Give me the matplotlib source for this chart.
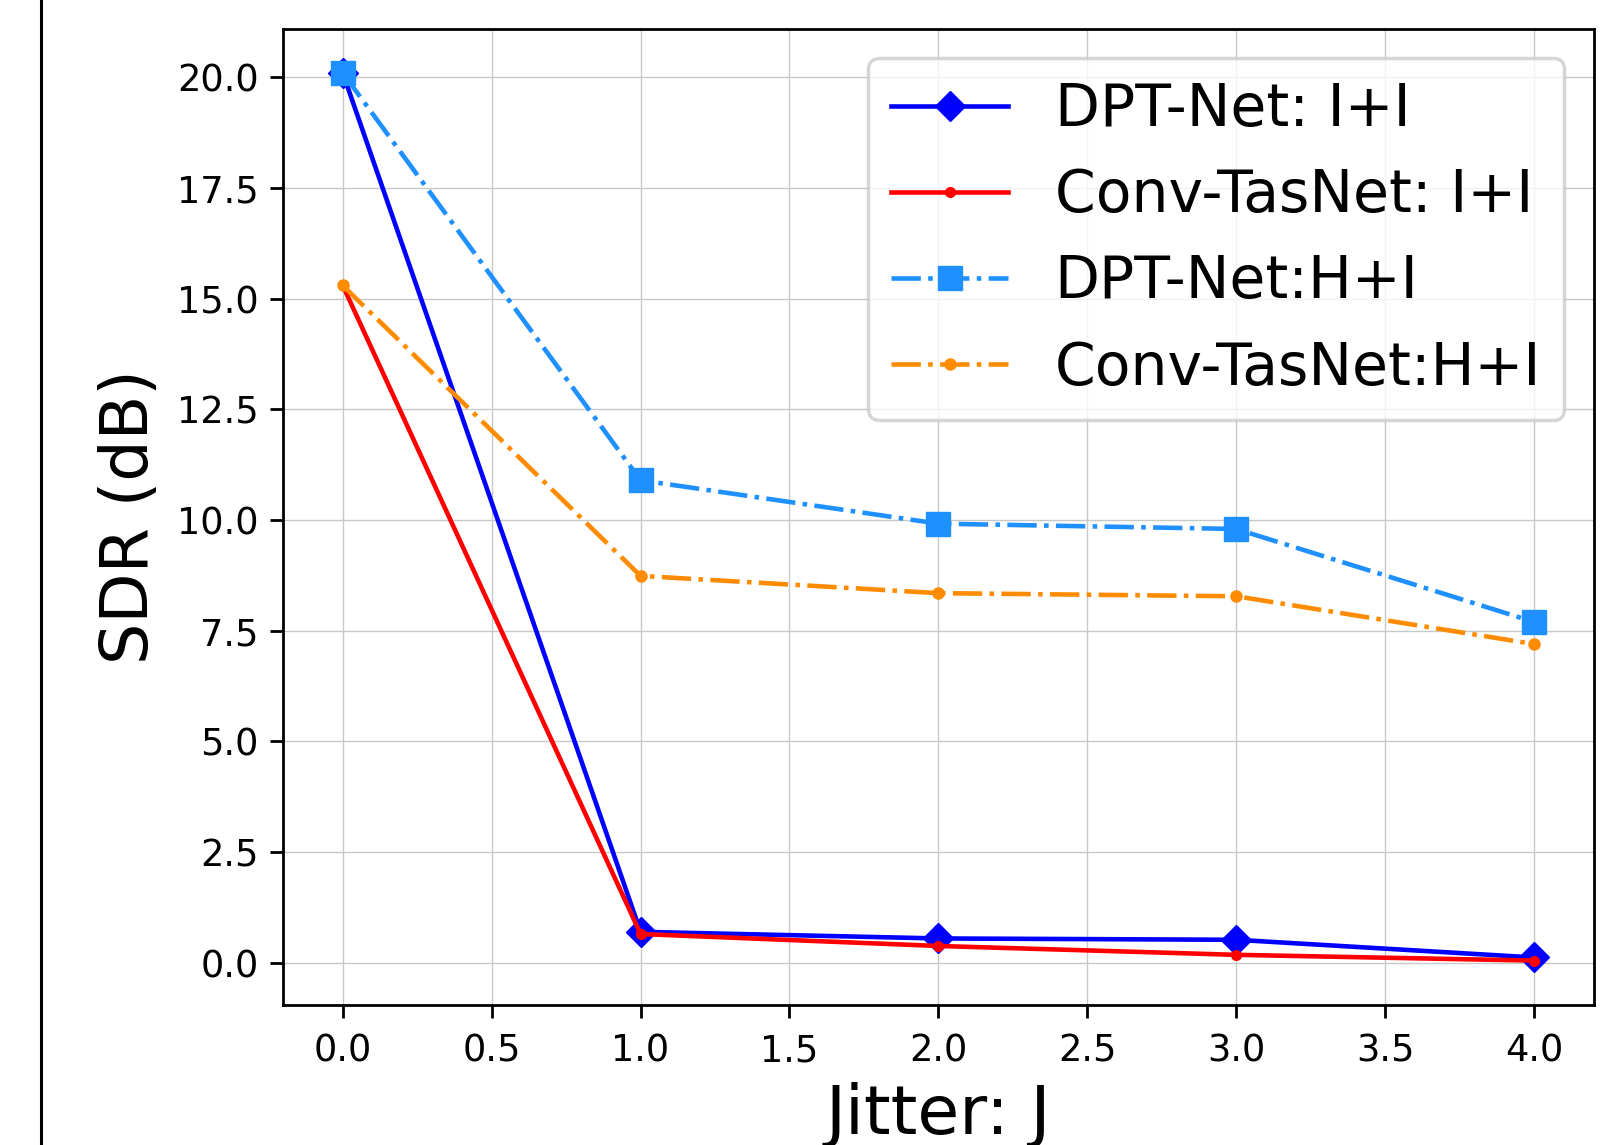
import matplotlib
matplotlib.use("Agg")
import matplotlib.pyplot as plt
from matplotlib.lines import Line2D

jitter = [0, 1, 2, 3, 4]
dpt_ii = [20.1, 0.70, 0.55, 0.52, 0.12]
conv_ii = [15.3, 0.65, 0.38, 0.18, 0.05]
dpt_hi = [20.1, 10.9, 9.92, 9.80, 7.70]
conv_hi = [15.3, 8.74, 8.35, 8.28, 7.20]
labels = ["DPT-Net: I+I", "Conv-TasNet: I+I", "DPT-Net:H+I", "Conv-TasNet:H+I"]

fig = plt.figure(figsize=(16, 11.45), dpi=100)
ax = fig.add_axes([0.177, 0.1223, 0.996 - 0.177, 0.975 - 0.1223])

ax.plot(jitter, dpt_ii, color="blue", marker="D", ms=15, lw=3.3, ls="-", label=labels[0])
ax.plot(jitter, conv_ii, color="red", marker="o", ms=7, lw=3.3, ls="-", label=labels[1])
ax.plot(jitter, dpt_hi, color="dodgerblue", marker="s", ms=17, lw=3.3, ls="-.", label=labels[2])
ax.plot(jitter, conv_hi, color="darkorange", marker="o", ms=8, lw=3.3, ls="-.", label=labels[3])

ax.grid(True, color="#c8c8c8", lw=1)
ax.set_axisbelow(True)
ax.set_xticks([0, 0.5, 1, 1.5, 2, 2.5, 3, 3.5, 4])
ax.set_yticks([0, 2.5, 5, 7.5, 10, 12.5, 15, 17.5, 20])
ax.tick_params(labelsize=26.5, length=9.5, width=2)
ax.tick_params(axis="x", pad=10)
ax.tick_params(axis="y", pad=8)
for s in ax.spines.values():
    s.set_linewidth(2)

ax.set_xlabel("Jitter: J", fontsize=49, labelpad=9)
ax.set_ylabel("SDR (dB)", fontsize=47, labelpad=11)

leg = ax.legend(loc="upper right", fontsize=42, framealpha=0.8, edgecolor="#cccccc")
leg.get_frame().set_linewidth(2.5)

fig.add_artist(Line2D([41 / 1600, 41 / 1600], [0, 1], transform=fig.transFigure, color="black", lw=2.2))

fig.savefig("out.png", dpi=100)
